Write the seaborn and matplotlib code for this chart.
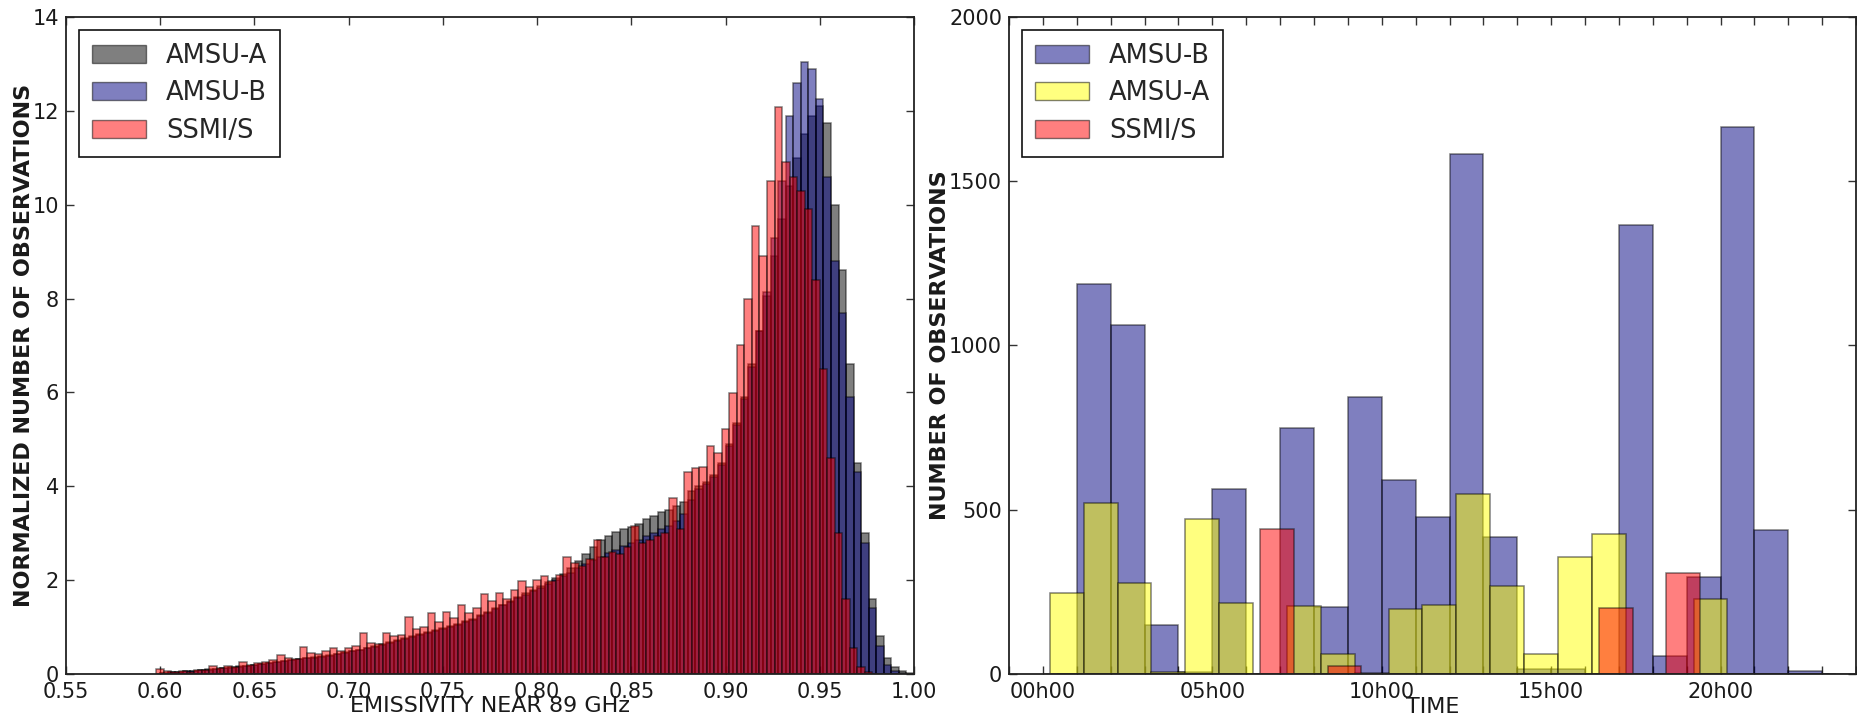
import numpy as np
import pandas as pd
import matplotlib
matplotlib.use("Agg")
import matplotlib.pyplot as plt
import seaborn as sns
from matplotlib.patches import Patch
from matplotlib.colors import to_rgba
from matplotlib.ticker import MultipleLocator, FormatStrFormatter

# ---------------- Left panel data: normalized histograms (emissivity near 89 GHz)
emis_bin_width = 0.004
amsua_emis_start = 0.600
amsua_emis = [
    0.03, 0.04, 0.05, 0.06, 0.07, 0.08, 0.10, 0.11, 0.12, 0.14,
    0.16, 0.18, 0.20, 0.22, 0.24, 0.26, 0.28, 0.30, 0.32, 0.34,
    0.36, 0.38, 0.40, 0.43, 0.46, 0.49, 0.52, 0.56, 0.60, 0.64,
    0.68, 0.72, 0.76, 0.80, 0.85, 0.90, 0.94, 0.98, 1.02, 1.07,
    1.12, 1.18, 1.25, 1.32, 1.40, 1.48, 1.56, 1.64, 1.72, 1.80,
    1.88, 1.96, 2.04, 2.14, 2.26, 2.40, 2.55, 2.70, 2.85, 2.95,
    3.02, 3.08, 3.14, 3.20, 3.30, 3.36, 3.45, 3.50, 3.58, 3.66,
    3.90, 4.00, 4.10, 4.25, 4.50, 4.90, 5.35, 5.90, 6.60, 7.30,
    8.05, 8.90, 9.70, 10.4, 11.0, 11.5, 11.9, 12.1, 11.75, 10.0,
    8.60, 6.60, 4.50, 3.00, 1.60, 0.80, 0.35, 0.15, 0.06, 0.02,
]
amsub_emis_start = 0.600
amsub_emis = [
    0.03, 0.04, 0.05, 0.06, 0.07, 0.08, 0.09, 0.10, 0.12, 0.13,
    0.15, 0.17, 0.19, 0.21, 0.23, 0.25, 0.27, 0.29, 0.31, 0.33,
    0.35, 0.37, 0.39, 0.42, 0.45, 0.48, 0.51, 0.55, 0.58, 0.62,
    0.66, 0.70, 0.74, 0.78, 0.83, 0.88, 0.92, 0.96, 1.00, 1.05,
    1.10, 1.16, 1.23, 1.30, 1.38, 1.46, 1.53, 1.61, 1.69, 1.77,
    1.84, 1.92, 2.00, 2.08, 2.16, 2.25, 2.34, 2.43, 2.50, 2.58,
    2.65, 2.72, 2.79, 2.86, 2.93, 3.00, 3.08, 3.16, 3.26, 3.40,
    3.70, 3.95, 4.05, 4.20, 4.45, 4.85, 5.30, 5.85, 6.55, 7.30,
    8.15, 9.30, 10.5, 11.9, 12.6, 13.05, 12.9, 12.25, 10.6, 8.80,
    7.70, 5.90, 4.30, 2.80, 1.40, 0.60, 0.20, 0.06, 0.02,
]
ssmis_emis_start = 0.598
ssmis_emis = [
    0.10, 0.06, 0.05, 0.07, 0.05, 0.09, 0.08, 0.16, 0.12, 0.17,
    0.14, 0.26, 0.20, 0.24, 0.26, 0.30, 0.40, 0.33, 0.31, 0.57,
    0.44, 0.42, 0.48, 0.55, 0.50, 0.56, 0.60, 0.88, 0.67, 0.64,
    0.88, 0.80, 0.84, 1.21, 0.95, 1.00, 1.31, 1.10, 1.33, 1.20,
    1.46, 1.30, 1.40, 1.70, 1.55, 1.72, 1.60, 1.80, 1.99, 1.85,
    2.00, 2.09, 1.98, 2.10, 2.50, 2.36, 2.30, 2.45, 2.86, 2.50,
    2.60, 2.55, 2.70, 3.15, 2.80, 2.85, 2.95, 3.00, 3.76, 3.10,
    4.31, 4.38, 4.40, 4.86, 4.70, 5.23, 5.98, 7.00, 8.00, 9.55,
    8.90, 10.5, 12.08, 10.9, 10.6, 10.3, 9.90, 8.40, 6.50, 4.60,
    3.00, 1.60, 0.55, 0.15, 0.04,
]

# ---------------- Right panel data: number of observations per hour
time_bin_width = 1.0
amsub_time_start = 0.0
amsub_time = [0, 1186, 1062, 150, 5, 564, 0, 750, 205, 843, 589, 478,
              1582, 418, 15, 15, 0, 1367, 55, 295, 1666, 438, 10, 0]
amsua_time_start = 0.2
amsua_time = [246, 520, 278, 5, 472, 217, 0, 207, 61, 3, 197, 210,
              547, 268, 61, 356, 426, 0, 0, 229, 0, 0, 0]
ssmis_time_start = 0.4
ssmis_time = [0, 0, 0, 0, 0, 0, 441, 0, 25, 0, 0, 0,
              0, 0, 0, 0, 200, 0, 307, 0, 0, 0, 0]
time_tick_labels = ["00h00", "05h00", "10h00", "15h00", "20h00"]

left_series = [("AMSU-A", amsua_emis_start, amsua_emis, "black"),
               ("AMSU-B", amsub_emis_start, amsub_emis, "navy"),
               ("SSMI/S", ssmis_emis_start, ssmis_emis, "red")]
right_series = [("AMSU-B", amsub_time_start, amsub_time, "navy"),
                ("AMSU-A", amsua_time_start, amsua_time, "yellow"),
                ("SSMI/S", ssmis_time_start, ssmis_time, "red")]

# ---------------- Style
sns.set_style("white")
plt.rcParams["font.family"] = ["DejaVu Sans"]

ALPHA = 0.5
EDGE = (0, 0, 0, 0.5)


def draw_hist(ax, start, width, values, color, lw):
    values = np.asarray(values, dtype=float)
    n = len(values)
    centers = start + width * (np.arange(n) + 0.5)
    df = pd.DataFrame({"x": centers, "w": values})
    sns.histplot(data=df, x="x", weights="w", bins=n,
                 binrange=(start, start + n * width), ax=ax, stat="count",
                 element="bars", fill=True, color=color, alpha=ALPHA,
                 edgecolor=EDGE, linewidth=lw)


def style_axes(ax):
    for s in ax.spines.values():
        s.set_visible(True)
        s.set_color("#222222")
        s.set_linewidth(1.3)
    ax.tick_params(which="both", direction="in", top=True, right=True,
                   bottom=True, left=True, length=6, width=1.0,
                   color="#333333", labelsize=15, labelcolor="#1a1a1a")
    ax.tick_params(axis="x", which="both", pad=6)
    ax.tick_params(axis="y", which="both", pad=5)


def add_legend(ax, series):
    handles = [Patch(facecolor=to_rgba(c, ALPHA), edgecolor=EDGE, linewidth=1.0, label=l)
               for l, _, _, c in series]
    leg = ax.legend(handles=handles, loc="upper left", fontsize=18.5,
                    frameon=True, fancybox=False, framealpha=1,
                    edgecolor="#111111", handlelength=2.1, handleheight=0.72,
                    handletextpad=0.8, labelspacing=0.45, borderpad=0.5,
                    borderaxespad=0.5)
    leg.get_frame().set_linewidth(1.2)


fig = plt.figure(figsize=(18.58, 7.23), dpi=100)
ax1 = fig.add_axes([0.0355, 0.0678, 0.4564, 0.9087])
ax2 = fig.add_axes([0.5431, 0.0678, 0.4559, 0.9087])

# Left panel
for label, start, vals, color in left_series:
    draw_hist(ax1, start, emis_bin_width, vals, color, 1.1)
ax1.set_xlim(0.55, 1.00)
ax1.set_ylim(0, 14)
ax1.xaxis.set_major_locator(MultipleLocator(0.05))
ax1.xaxis.set_major_formatter(FormatStrFormatter("%.2f"))
ax1.yaxis.set_major_locator(MultipleLocator(2))
style_axes(ax1)
ax1.set_xlabel("EMISSIVITY NEAR 89 GHz", fontsize=16, va="center", color="#1a1a1a")
ax1.xaxis.set_label_coords(0.5, -0.049)
ax1.set_ylabel("NORMALIZED NUMBER OF OBSERVATIONS", fontsize=16, fontweight="bold",
               va="center", ha="center", color="#1a1a1a")
ax1.yaxis.set_label_coords(-0.0495, 0.5)
add_legend(ax1, left_series)

# Right panel
for label, start, vals, color in right_series:
    draw_hist(ax2, start, time_bin_width, vals, color, 1.1)
ax2.set_xlim(-1, 24)
ax2.set_ylim(0, 2000)
tick_pos = [int(t[:2]) for t in time_tick_labels]
ax2.set_xticks(tick_pos)
ax2.set_xticklabels(time_tick_labels)
ax2.xaxis.set_minor_locator(MultipleLocator(1))
ax2.yaxis.set_major_locator(MultipleLocator(500))
style_axes(ax2)
ax2.set_xlabel("TIME", fontsize=16, va="center", color="#1a1a1a")
ax2.xaxis.set_label_coords(0.5, -0.051)
ax2.set_ylabel("NUMBER OF OBSERVATIONS", fontsize=16, fontweight="bold",
               va="center", ha="center", color="#1a1a1a")
ax2.yaxis.set_label_coords(-0.081, 0.5)
add_legend(ax2, right_series)

fig.savefig("out.png", dpi=100)
